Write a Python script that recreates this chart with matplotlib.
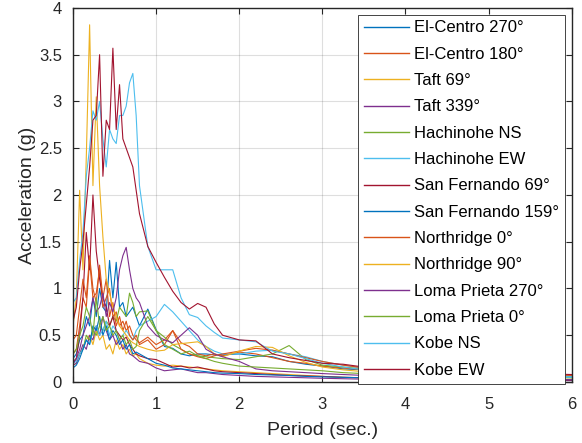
import matplotlib
matplotlib.use("Agg")
import matplotlib.pyplot as plt
from matplotlib.ticker import FuncFormatter

plt.rcParams["font.family"] = ["Liberation Sans", "DejaVu Sans"]

# period grid (sec.)
period = [0.00, 0.04, 0.08, 0.12, 0.16, 0.20, 0.24, 0.28, 0.32, 0.36, 0.40,
          0.44, 0.48, 0.52, 0.56, 0.60, 0.64, 0.68, 0.72, 0.76, 0.80,
          0.9, 1.0, 1.1, 1.2, 1.3, 1.4, 1.5, 1.6, 1.7, 1.8,
          2.0, 2.2, 2.4, 2.6, 2.8, 3.0, 3.25, 3.5, 4.0, 4.5, 5.0, 5.5, 6.0]

# spectral acceleration (g)
el_centro_270 = [0.25, 0.30, 0.45, 0.50, 0.70, 0.60, 0.90, 0.70, 1.00, 0.80, 0.75,
                 1.30, 0.90, 1.28, 0.80, 0.85, 0.70, 0.75, 0.80, 0.70, 0.60,
                 0.78, 0.56, 0.38, 0.36, 0.30, 0.28, 0.30, 0.30, 0.29, 0.29,
                 0.30, 0.28, 0.27, 0.22, 0.19, 0.17, 0.14, 0.13, 0.10, 0.08, 0.07, 0.06, 0.05]
el_centro_180 = [0.30, 0.35, 0.60, 0.90, 0.80, 1.30, 0.90, 0.95, 1.20, 0.80, 0.90,
                 1.00, 0.70, 0.75, 0.60, 0.65, 0.55, 0.60, 0.50, 0.45, 0.42,
                 0.48, 0.40, 0.45, 0.55, 0.42, 0.38, 0.30, 0.28, 0.30, 0.28,
                 0.32, 0.30, 0.26, 0.22, 0.20, 0.17, 0.15, 0.13, 0.10, 0.09, 0.08, 0.07, 0.06]
taft_69 = [0.18, 0.20, 0.30, 0.35, 0.45, 0.50, 0.40, 0.55, 0.45, 0.50, 0.35,
           0.40, 0.30, 0.45, 0.35, 0.40, 0.30, 0.35, 0.28, 0.30, 0.25,
           0.20, 0.18, 0.17, 0.18, 0.17, 0.16, 0.15, 0.14, 0.13, 0.12,
           0.11, 0.10, 0.09, 0.08, 0.07, 0.06, 0.05, 0.045, 0.035, 0.03, 0.025, 0.02, 0.02]
taft_339 = [0.18, 0.20, 0.30, 0.40, 0.35, 0.50, 0.45, 0.60, 0.50, 0.70, 0.55,
            0.45, 0.50, 0.40, 0.45, 0.35, 0.40, 0.30, 0.28, 0.25, 0.22,
            0.20, 0.15, 0.12, 0.13, 0.14, 0.12, 0.10, 0.10, 0.09, 0.08,
            0.07, 0.06, 0.055, 0.05, 0.045, 0.04, 0.035, 0.03, 0.025, 0.02, 0.02, 0.015, 0.015]
hachinohe_ns = [0.22, 0.25, 0.30, 0.35, 0.50, 0.45, 0.55, 0.50, 0.60, 0.55, 0.65,
                0.60, 0.70, 0.65, 0.80, 0.75, 0.70, 0.95, 0.85, 0.70, 0.75,
                0.76, 0.55, 0.48, 0.40, 0.35, 0.30, 0.28, 0.27, 0.26, 0.25,
                0.24, 0.27, 0.30, 0.39, 0.24, 0.18, 0.16, 0.14, 0.12, 0.10, 0.08, 0.07, 0.06]
hachinohe_ew = [0.20, 0.22, 0.30, 0.35, 0.45, 0.40, 0.55, 0.60, 0.50, 0.55, 0.65,
                0.50, 0.60, 0.55, 0.45, 0.50, 0.55, 0.50, 0.45, 0.55, 0.60,
                0.65, 0.70, 0.83, 0.75, 0.65, 0.55, 0.45, 0.38, 0.33, 0.30,
                0.30, 0.33, 0.34, 0.30, 0.27, 0.22, 0.18, 0.15, 0.12, 0.10, 0.08, 0.07, 0.06]
san_fernando_69 = [0.20, 0.25, 0.50, 0.90, 1.60, 1.20, 2.00, 1.40, 1.10, 0.90, 0.80,
                   0.60, 0.70, 0.55, 0.50, 0.45, 0.48, 0.40, 0.35, 0.30, 0.28,
                   0.25, 0.24, 0.20, 0.16, 0.17, 0.15, 0.16, 0.14, 0.12, 0.11,
                   0.10, 0.09, 0.08, 0.07, 0.065, 0.06, 0.05, 0.045, 0.04, 0.035, 0.03, 0.025, 0.02]
san_fernando_159 = [0.15, 0.18, 0.25, 0.35, 0.45, 0.40, 0.60, 0.55, 0.70, 0.50, 0.60,
                    0.45, 0.55, 0.50, 0.40, 0.45, 0.35, 0.40, 0.30, 0.32, 0.30,
                    0.25, 0.20, 0.18, 0.15, 0.14, 0.13, 0.12, 0.11, 0.10, 0.095,
                    0.09, 0.08, 0.075, 0.07, 0.06, 0.055, 0.05, 0.045, 0.04, 0.035, 0.03, 0.03, 0.025]
northridge_0 = [0.45, 0.50, 0.80, 1.10, 0.90, 1.35, 1.00, 0.85, 1.25, 0.90, 1.10,
                0.70, 0.85, 0.60, 0.70, 0.55, 0.65, 0.50, 0.45, 0.50, 0.40,
                0.45, 0.35, 0.40, 0.55, 0.35, 0.30, 0.27, 0.25, 0.28, 0.30,
                0.33, 0.36, 0.34, 0.30, 0.26, 0.22, 0.18, 0.15, 0.12, 0.10, 0.09, 0.08, 0.07]
northridge_90 = [0.60, 0.90, 2.05, 1.20, 2.40, 3.82, 2.10, 3.05, 2.10, 1.55, 1.10,
                 0.95, 0.80, 0.70, 0.60, 0.55, 0.50, 0.45, 0.42, 0.40, 0.38,
                 0.35, 0.33, 0.34, 0.40, 0.41, 0.42, 0.43, 0.38, 0.30, 0.27,
                 0.33, 0.38, 0.37, 0.28, 0.21, 0.16, 0.13, 0.11, 0.09, 0.07, 0.06, 0.05, 0.045]
loma_prieta_270 = [0.20, 0.25, 0.35, 0.50, 0.60, 0.70, 0.90, 0.75, 0.80, 0.95, 0.70,
                   0.85, 0.75, 0.90, 1.20, 1.35, 1.44, 1.20, 1.00, 0.90, 0.85,
                   0.60, 0.50, 0.45, 0.42, 0.50, 0.58, 0.50, 0.35, 0.30, 0.27,
                   0.22, 0.14, 0.12, 0.11, 0.10, 0.09, 0.08, 0.07, 0.05, 0.04, 0.035, 0.03, 0.025]
loma_prieta_0 = [0.30, 0.35, 0.50, 0.60, 0.80, 0.70, 0.50, 0.90, 0.60, 0.70, 0.55,
                 0.60, 0.50, 0.55, 0.45, 0.50, 0.40, 0.45, 0.35, 0.38, 0.55,
                 0.70, 0.55, 0.40, 0.35, 0.30, 0.33, 0.28, 0.25, 0.22, 0.20,
                 0.17, 0.16, 0.15, 0.14, 0.13, 0.12, 0.10, 0.09, 0.08, 0.07, 0.06, 0.05, 0.045]
kobe_ns = [0.85, 0.90, 1.30, 1.60, 2.20, 2.50, 2.90, 2.80, 3.00, 2.60, 2.30,
           2.70, 2.60, 2.55, 2.85, 2.85, 2.95, 3.20, 3.30, 2.85, 2.10,
           1.45, 1.20, 1.20, 1.20, 0.90, 0.72, 0.69, 0.60, 0.53, 0.47,
           0.45, 0.43, 0.33, 0.30, 0.25, 0.20, 0.16, 0.13, 0.10, 0.08, 0.07, 0.06, 0.05]
kobe_ew = [0.65, 0.80, 1.20, 1.50, 1.90, 2.30, 2.80, 2.85, 3.50, 2.20, 2.80,
           2.70, 3.57, 2.70, 3.18, 2.60, 2.50, 2.40, 2.30, 2.05, 1.80,
           1.45, 1.28, 1.12, 0.97, 0.85, 0.78, 0.84, 0.80, 0.62, 0.50,
           0.45, 0.44, 0.30, 0.26, 0.23, 0.20, 0.19, 0.16, 0.13, 0.11, 0.10, 0.09, 0.08]

labels = ["El-Centro 270°", "El-Centro 180°", "Taft 69°", "Taft 339°",
          "Hachinohe NS", "Hachinohe EW", "San Fernando 69°", "San Fernando 159°",
          "Northridge 0°", "Northridge 90°", "Loma Prieta 270°", "Loma Prieta 0°",
          "Kobe NS", "Kobe EW"]
series = [el_centro_270, el_centro_180, taft_69, taft_339, hachinohe_ns, hachinohe_ew,
          san_fernando_69, san_fernando_159, northridge_0, northridge_90,
          loma_prieta_270, loma_prieta_0, kobe_ns, kobe_ew]

# MATLAB default color order (repeats after 7)
colors = ["#0072BD", "#D95319", "#EDB120", "#7E2F8E", "#77AC30", "#4DBEEE", "#A2142F"]

fig = plt.figure(figsize=(5.82, 4.43), dpi=100)
ax = fig.add_axes([0.1254, 0.1377, 0.857, 0.8443])

for i, (vals, lab) in enumerate(zip(series, labels)):
    ax.plot(period, vals, color=colors[i % 7], linewidth=0.8, label=lab)

ax.set_xlim(0, 6)
ax.set_ylim(0, 4)
ax.set_xticks(range(0, 7))
ax.set_yticks([0, 0.5, 1, 1.5, 2, 2.5, 3, 3.5, 4])
ax.yaxis.set_major_formatter(FuncFormatter(lambda v, p: f"{v:g}"))
ax.grid(True, color="#262626", alpha=0.15, linewidth=0.8)
ax.tick_params(direction="in", length=4, width=0.8, top=True, right=True,
               labelsize=12, colors="#262626")
ax.tick_params(axis="x", pad=11)
ax.tick_params(axis="y", pad=8)
for sp in ax.spines.values():
    sp.set_linewidth(1.0)
    sp.set_color("#262626")

ax.set_xlabel("Period (sec.)", fontsize=14, color="#262626", labelpad=7)
ax.set_ylabel("Acceleration (g)", fontsize=14, color="#262626", labelpad=2)

leg = ax.legend(loc="upper right", fontsize=12, frameon=True, fancybox=False,
                edgecolor="#262626", framealpha=1, handlelength=2.7,
                handletextpad=0.3, labelspacing=0.68, borderaxespad=0.4,
                borderpad=0.35)
leg.get_frame().set_linewidth(0.6)
for line in leg.get_lines():
    line.set_linewidth(1.0)

plt.savefig("out.png", dpi=100)
plt.close()
